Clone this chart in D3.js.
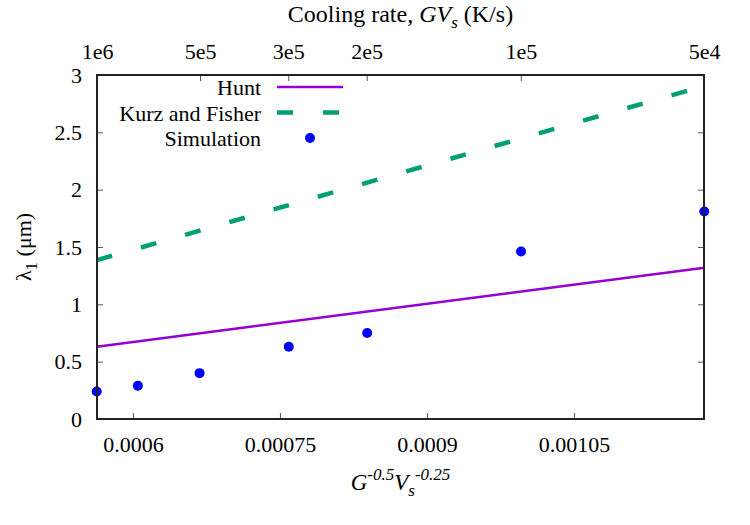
<!DOCTYPE html>
<html>
<head>
<meta charset="utf-8">
<script src="https://cdn.jsdelivr.net/npm/d3@7"></script>
<style>
  body { margin: 0; background: #fff; }
</style>
</head>
<body>
<script>
// data
let simX = [0.000563, 0.000605, 0.000668, 0.000759, 0.000839, 0.000996, 0.001183];
let simY = [0.24, 0.29, 0.40, 0.63, 0.75, 1.46, 1.81];
let lineX = [0.000563, 0.001183];
let huntY = [0.63, 1.32];
let kurzY = [1.385, 2.905];
let xTicks = [0.0006, 0.00075, 0.0009, 0.00105];
let xTickLabels = ["0.0006", "0.00075", "0.0009", "0.00105"];
let yTicks = [0, 0.5, 1, 1.5, 2, 2.5, 3];
let rateTicks = [1e6, 5e5, 3e5, 2e5, 1e5, 5e4];
let rateLabels = ["1e6", "5e5", "3e5", "2e5", "1e5", "5e4"];

let serif = "'Liberation Serif', 'Times New Roman', 'DejaVu Serif', serif";
let fs = 22;

function main() {
    let left = 97, right = 704, top = 75, bottom = 419;
    let width = right - left;
    let height = bottom - top;

    let svg = d3.select("body").append("svg")
        .attr("width", 750)
        .attr("height", 525)
        .style("font-family", serif);

    let g = svg.append("g")
        .attr("transform", "translate(" + left + "," + top + ")");

    let x = d3.scaleLinear().domain([0.0005633, 0.0011827]).range([0, width]);
    let y = d3.scaleLinear().domain([0, 3]).range([height, 0]);
    // top axis: cooling rate, x is proportional to (G*Vs)^-0.25
    let x2 = d3.scaleLinear()
        .domain([Math.pow(1e6, -0.25), Math.pow(5e4, -0.25)])
        .range([0, width]);

    function styleAxis(sel) {
        sel.attr("font-family", null).attr("font-size", fs);
        sel.select(".domain").remove();
        sel.selectAll(".tick line").attr("stroke", "#555").attr("stroke-width", 1);
        sel.selectAll(".tick text").attr("fill", "black");
    }

    g.append("g")
        .attr("transform", "translate(0," + height + ")")
        .call(d3.axisBottom(x).tickValues(xTicks)
            .tickFormat((d, i) => xTickLabels[i]).tickSize(-6).tickPadding(17))
        .call(styleAxis);

    g.append("g")
        .call(d3.axisLeft(y).tickValues(yTicks)
            .tickFormat(d3.format("")).tickSize(-6).tickPadding(15))
        .call(styleAxis);

    g.append("g")
        .attr("transform", "translate(" + width + ",0)")
        .call(d3.axisRight(y).tickValues(yTicks.slice(1, -1))
            .tickFormat("").tickSize(-6))
        .call(styleAxis);

    g.append("g")
        .call(d3.axisTop(x2).tickValues(rateTicks.map(r => Math.pow(r, -0.25)))
            .tickFormat((d, i) => rateLabels[i]).tickSize(-6).tickPadding(16))
        .call(styleAxis);

    // lines
    let line = d3.line()
        .x(d => x(d[0]))
        .y(d => y(d[1]));

    g.append("path")
        .datum(lineX.map((v, i) => [v, huntY[i]]))
        .attr("d", line)
        .attr("fill", "none")
        .attr("stroke", "#9400d3")
        .attr("stroke-width", 2.5);

    g.append("path")
        .datum(lineX.map((v, i) => [v, kurzY[i]]))
        .attr("d", line)
        .attr("fill", "none")
        .attr("stroke", "#009e73")
        .attr("stroke-width", 4.5)
        .attr("stroke-dasharray", "16,30");

    g.selectAll("circle.sim")
        .data(simX.map((v, i) => [v, simY[i]]))
        .enter()
        .append("circle")
        .attr("class", "sim")
        .attr("cx", d => x(d[0]))
        .attr("cy", d => y(d[1]))
        .attr("r", 5)
        .attr("fill", "#0000ff");

    // frame
    g.append("rect")
        .attr("width", width)
        .attr("height", height)
        .attr("fill", "none")
        .attr("stroke", "#222")
        .attr("stroke-width", 2);

    // legend
    let legend = svg.append("g").attr("font-size", fs);
    let keys = ["Hunt", "Kurz and Fisher", "Simulation"];
    keys.forEach(function(k, i) {
        let cy = 87 + i * 25.5;
        legend.append("text")
            .attr("x", 261)
            .attr("y", cy + 8)
            .attr("text-anchor", "end")
            .text(k);
    });
    legend.append("line")
        .attr("x1", 277).attr("x2", 343).attr("y1", 87).attr("y2", 87)
        .attr("stroke", "#9400d3").attr("stroke-width", 2.5);
    legend.append("line")
        .attr("x1", 277).attr("x2", 343).attr("y1", 112.5).attr("y2", 112.5)
        .attr("stroke", "#009e73").attr("stroke-width", 4.5)
        .attr("stroke-dasharray", "16,30");
    legend.append("circle")
        .attr("cx", 310).attr("cy", 138).attr("r", 5).attr("fill", "#0000ff");

    // axis titles
    let xt = svg.append("text")
        .attr("x", left + width / 2)
        .attr("y", 490)
        .attr("text-anchor", "middle")
        .attr("font-size", 23)
        .attr("font-style", "italic");
    xt.append("tspan").text("G");
    xt.append("tspan").attr("dy", -10).attr("font-size", 17).text("-0.5");
    xt.append("tspan").attr("dy", 10).text("V");
    xt.append("tspan").attr("dy", 6).attr("font-size", 17).text("s");
    xt.append("tspan").attr("dy", -16).attr("font-size", 17).text("-0.25");

    let tt = svg.append("text")
        .attr("x", left + width / 2)
        .attr("y", 22)
        .attr("text-anchor", "middle")
        .attr("font-size", 24);
    tt.append("tspan").text("Cooling rate, ");
    tt.append("tspan").attr("font-style", "italic").text("GV");
    tt.append("tspan").attr("dy", 6).attr("font-style", "italic").attr("font-size", 17).text("s");
    tt.append("tspan").attr("dy", -6).text(" (K/s)");

    let yt = svg.append("text")
        .attr("transform", "translate(31," + (top + height / 2) + ") rotate(-90)")
        .attr("text-anchor", "middle")
        .attr("font-size", fs);
    yt.append("tspan").text("λ");
    yt.append("tspan").attr("dy", 6).attr("font-size", 17).text("1");
    yt.append("tspan").attr("dy", -6).text(" (μm)");
}

main();
</script>
</body>
</html>
